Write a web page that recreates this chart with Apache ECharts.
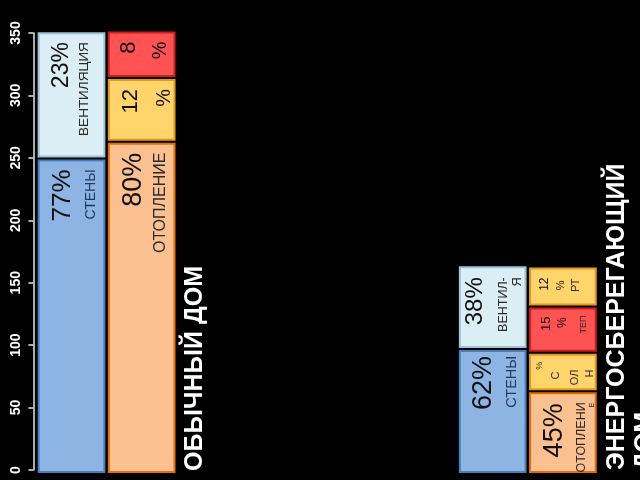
<!DOCTYPE html>
<html><head><meta charset="utf-8">
<script src="https://cdn.jsdelivr.net/npm/echarts@6/dist/echarts.min.js"></script>
<style>html,body{margin:0;padding:0;background:#000}#c{width:640px;height:480px}</style>
</head><body><div id="c"></div>
<script>
// ---- data ----
const categories = ['Обычный дом: стены', 'Обычный дом: отопление', '', '', '', '', 'Энергосберегающий дом: стены', 'Энергосберегающий дом: отопление'];
const yMin = 0, yMax = 350, yStep = 50;
const titles = ['ОБЫЧНЫЙ ДОМ', 'ЭНЕРГОСБЕРЕГАЮЩИЙ\nДОМ'];

const ordinaryWalls = [249.5, 102];
const ordinaryWallsText = [['77%', 'СТЕНЫ'], ['23%', 'ВЕНТИЛЯЦИЯ']];
const ordinaryHeat = [263, 51, 38];
const ordinaryHeatText = [['80%', 'ОТОПЛЕНИЕ'], ['12', '%'], ['8', '%']];
const efficientWalls = [97, 67];
const efficientWallsText = [['62%', 'СТЕНЫ'], ['38%', 'ВЕНТИЛ-', 'Я']];
const efficientHeat = [63, 31, 37, 32];
const efficientHeatText = [['45%', 'ОТОПЛЕНИ', 'Е'], ['%', 'С', 'ОЛ', 'Н'], ['15', '%', 'ТЕП'], ['12', '%', 'РТ']];

// ---- styles ----
const palette = {
  blue:   { fill: '#8eb4e3', stroke: '#4a7ebb' },
  light:  { fill: '#dbeef4', stroke: '#9cc3d8' },
  peach:  { fill: '#fac090', stroke: '#e46c0a' },
  yellow: { fill: '#ffd46b', stroke: '#e09a1c' },
  red:    { fill: '#ff5252', stroke: '#c81e1e' }
};
const textColors = { dark: '#111111', navy: '#1f3a60', grey: '#2a2a2a' };
// per line: [fontSize, centre offset from bar left, distance of text end from segment top, colour]
const columns = [
  { cat: 0, values: ordinaryWalls, texts: ordinaryWallsText, colors: ['blue', 'light'],
    layout: [[[26, 24.5, 9, 'dark'], [14, 52, 9, 'navy']],
             [[23, 23, 9, 'dark'], [13.5, 45.5, 9, 'grey']]] },
  { cat: 1, values: ordinaryHeat, texts: ordinaryHeatText, colors: ['peach', 'yellow', 'red'],
    layout: [[[27, 25, 9, 'dark'], [16, 52, 9, 'grey']],
             [[22, 22, 9, 'dark'], [20, 56, 9, 'dark']],
             [[22, 20, 9, 'dark'], [20, 52, 9, 'dark']]] },
  { cat: 6, values: efficientWalls, texts: efficientWallsText, colors: ['blue', 'light'],
    layout: [[[27, 23.5, 5, 'dark'], [14.5, 52, 5, 'navy']],
             [[24, 16, 10, 'dark'], [12.5, 43.5, 10, 'grey'], [13, 58, 10, 'grey']]] },
  { cat: 7, values: efficientHeat, texts: efficientHeatText, colors: ['peach', 'yellow', 'red', 'yellow'],
    layout: [[[27, 24.5, 10, 'dark'], [12.5, 51.5, 9, 'grey'], [8, 62, 9, 'grey']],
             [[9, 9, 7, 'grey'], [11, 26, 17, 'grey'], [11, 44.5, 15, 'grey'], [11, 59.5, 15, 'grey']],
             [[13, 16, 8, 'dark'], [12, 32.5, 9, 'dark'], [9, 53.5, 7, 'grey']],
             [[12, 14.5, 9, 'dark'], [11, 31, 12, 'dark'], [11, 45.5, 10, 'grey']]] }
];

const FONT = '"Liberation Sans", Arial, sans-serif';
const seriesData = [];
columns.forEach((col, ci) => {
  let acc = 0;
  col.values.forEach((v, si) => {
    seriesData.push([col.cat, acc, acc + v, ci, si]);
    acc += v;
  });
});

function renderItem(params, api) {
  const cat = api.value(0), s = api.value(1), e = api.value(2);
  const ci = api.value(3), si = api.value(4);
  const col = columns[ci];
  const pTop = api.coord([cat, e]);
  const pBot = api.coord([cat, s]);
  const bw = api.size([1, 0])[0];
  const w = bw - 4.5;
  const x0 = pTop[0] - w / 2;
  const yTop = pTop[1] + 2;
  const yBot = s === 0 ? pBot[1] + 2 : pBot[1] - 2;
  const pal = palette[col.colors[si]];
  const children = [{
    type: 'rect',
    shape: { x: x0, y: yTop, width: w, height: yBot - yTop },
    style: { fill: pal.fill, stroke: pal.stroke, lineWidth: 2 }
  }];
  const lines = col.texts[si];
  const lay = col.layout[si];
  lines.forEach((t, li) => {
    const L = lay[li];
    children.push({
      type: 'text',
      x: x0 + L[1], y: yTop + L[2],
      rotation: Math.PI / 2,
      style: {
        text: t, fill: textColors[L[3]], fontSize: L[0], fontFamily: FONT,
        align: 'right', verticalAlign: 'middle'
      }
    });
  });
  return { type: 'group', children };
}

const chart = echarts.init(document.getElementById('c'), null, { renderer: 'canvas' });
chart.setOption({
  backgroundColor: '#000000',
  animation: false,
  grid: { left: 36.4, right: 42, top: 33, bottom: 10, containLabel: false },
  xAxis: { type: 'category', data: categories, show: false },
  yAxis: {
    type: 'value', min: yMin, max: yMax, interval: yStep, offset: 3,
    axisLine: { show: true, lineStyle: { color: '#e6e6e6', width: 1.5 } },
    axisTick: { show: true, length: 5, lineStyle: { color: '#e6e6e6', width: 1.5 } },
    splitLine: { show: false },
    axisLabel: { rotate: 90, margin: 10, color: '#ffffff', fontWeight: 'bold', fontSize: 14, fontFamily: FONT }
  },
  graphic: [
    { type: 'text', x: 195, y: 471, rotation: Math.PI / 2,
      style: { text: titles[0], fill: '#ffffff', font: 'bold 25px ' + FONT, align: 'left', verticalAlign: 'middle' } },
    { type: 'text', x: 603, y: 470, rotation: Math.PI / 2,
      style: { text: titles[1], fill: '#ffffff', font: 'bold 25px ' + FONT, lineHeight: 28, align: 'left', verticalAlign: 'top' } }
  ],
  series: [{
    type: 'custom',
    renderItem: renderItem,
    clip: false,
    encode: { x: 0, y: [1, 2] },
    data: seriesData
  }]
});
</script>
</body></html>
